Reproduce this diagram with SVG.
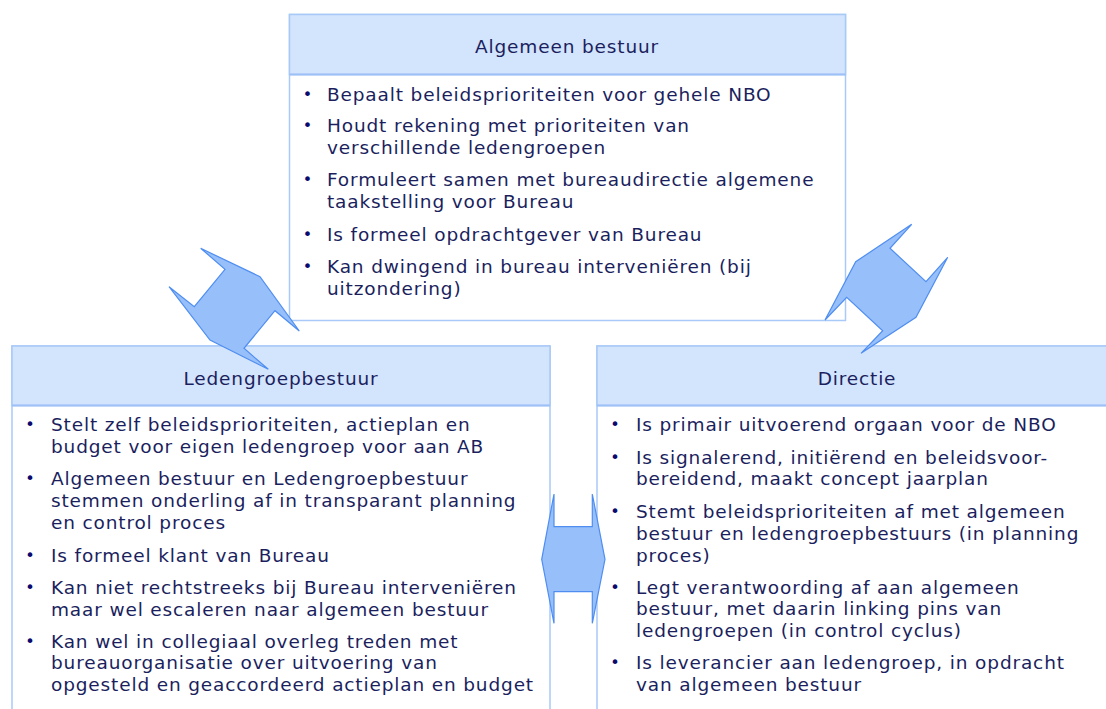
<svg xmlns="http://www.w3.org/2000/svg" width="1106" height="709" viewBox="0 0 1106 709">
<style>
.box{fill:#ffffff;stroke:#a9c9f8;stroke-width:1.5}
.hdr{fill:#d3e4fd;stroke:#a9c9f8;stroke-width:1.5}
.sep{stroke:#9dc0f7;stroke-width:2}
text{font-family:"DejaVu Sans",Verdana,sans-serif;font-size:18.5px;letter-spacing:0.85px;fill:#1b1f5e}
.h{text-anchor:middle}
.b{text-anchor:middle;fill:#0a0a6e;font-size:16px;letter-spacing:0}
.arr{fill:#97bffa;stroke:#4f8ef0;stroke-width:1.2;stroke-linejoin:miter}
</style>
<rect width="1106" height="709" fill="#ffffff"/>
<g id="algemeen-bestuur">
<rect class="box" x="289.5" y="14.5" width="556" height="306"/>
<rect class="hdr" x="289.5" y="14.5" width="556" height="60"/>
<line class="sep" x1="289.5" y1="74.5" x2="845.5" y2="74.5"/>
<text class="h" x="567" y="52.5">Algemeen bestuur</text>
<text class="b" x="307.5" y="100">•</text><text x="327" y="101">Bepaalt beleidsprioriteiten voor gehele NBO</text>
<text class="b" x="307.5" y="131">•</text><text x="327" y="132">Houdt rekening met prioriteiten van<tspan x="327" dy="22">verschillende ledengroepen</tspan></text>
<text class="b" x="307.5" y="185">•</text><text x="327" y="186">Formuleert samen met bureaudirectie algemene<tspan x="327" dy="22">taakstelling voor Bureau</tspan></text>
<text class="b" x="307.5" y="240">•</text><text x="327" y="241">Is formeel opdrachtgever van Bureau</text>
<text class="b" x="307.5" y="272">•</text><text x="327" y="273">Kan dwingend in bureau interveniëren (bij<tspan x="327" dy="22">uitzondering)</tspan></text>
</g>
<g id="ledengroepbestuur">
<rect class="box" x="12" y="346" width="538" height="380"/>
<rect class="hdr" x="12" y="346" width="538" height="59.5"/>
<line class="sep" x1="12" y1="405.5" x2="550" y2="405.5"/>
<text class="h" x="281" y="384.5">Ledengroepbestuur</text>
<text class="b" x="30" y="430">•</text><text x="51" y="431">Stelt zelf beleidsprioriteiten, actieplan en<tspan x="51" dy="21.8">budget voor eigen ledengroep voor aan AB</tspan></text>
<text class="b" x="30" y="484">•</text><text x="51" y="485">Algemeen bestuur en Ledengroepbestuur<tspan x="51" dy="22">stemmen onderling af in transparant planning</tspan><tspan x="51" dy="22">en control proces</tspan></text>
<text class="b" x="30" y="561">•</text><text x="51" y="562">Is formeel klant van Bureau</text>
<text class="b" x="30" y="593">•</text><text x="51" y="594">Kan niet rechtstreeks bij Bureau interveniëren<tspan x="51" dy="21.8">maar wel escaleren naar algemeen bestuur</tspan></text>
<text class="b" x="30" y="647">•</text><text x="51" y="647.5">Kan wel in collegiaal overleg treden met<tspan x="51" dy="21.8">bureauorganisatie over uitvoering van</tspan><tspan x="51" dy="21.8">opgesteld en geaccordeerd actieplan en budget</tspan></text>
</g>
<g id="directie">
<rect class="box" x="597" y="346" width="530" height="380"/>
<rect class="hdr" x="597" y="346" width="530" height="59.5"/>
<line class="sep" x1="597" y1="405.5" x2="1127" y2="405.5"/>
<text class="h" x="857" y="384.5">Directie</text>
<text class="b" x="615" y="430">•</text><text x="636" y="431">Is primair uitvoerend orgaan voor de NBO</text>
<text class="b" x="615" y="463">•</text><text x="636" y="463.5">Is signalerend, initiërend en beleidsvoor-<tspan x="636" dy="21.8">bereidend, maakt concept jaarplan</tspan></text>
<text class="b" x="615" y="517">•</text><text x="636" y="518">Stemt beleidsprioriteiten af met algemeen<tspan x="636" dy="22">bestuur en ledengroepbestuurs (in planning</tspan><tspan x="636" dy="22">proces)</tspan></text>
<text class="b" x="615" y="593">•</text><text x="636" y="593.5">Legt verantwoording af aan algemeen<tspan x="636" dy="21.8">bestuur, met daarin linking pins van</tspan><tspan x="636" dy="21.8">ledengroepen (in control cyclus)</tspan></text>
<text class="b" x="615" y="668">•</text><text x="636" y="669">Is leverancier aan ledengroep, in opdracht<tspan x="636" dy="22">van algemeen bestuur</tspan></text>
</g>
<g id="connectors">
<polygon class="arr" points="200.7,248.3 225,269.3 194.3,306.7 169,286.7 210,340 268.3,369.3 244,348.3 275,310.7 299.3,331 260,276.7"/>
<polygon class="arr" points="911.7,224.3 890,248.3 926,281.7 947.7,257.3 916,317.3 861,353.3 882.7,330.7 846.7,297.3 825,320 855.7,261.7"/>
<polygon class="arr" points="554,494 554,526.7 592.3,526.7 592.3,494 605,559.3 592.3,623.3 592.3,591.7 554,591.7 554,623.3 541.7,559.3"/>
</g>
</svg>
